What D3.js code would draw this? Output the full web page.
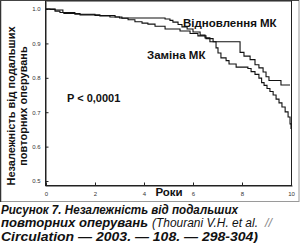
<!DOCTYPE html>
<html><head><meta charset="utf-8">
<script src="https://cdn.jsdelivr.net/npm/d3@7"></script>
<style>
html,body{margin:0;padding:0;background:#fff;}
svg{display:block;}
text{font-family:"Liberation Sans",Arial,sans-serif;}
</style></head>
<body>
<svg id="c" width="300" height="243"></svg>
<script>
// Data (years, freedom from reoperation)
const repairT = [0, 0.37, 0.69, 1.18, 2.0, 2.82, 3.0, 4.86, 5.06, 5.18, 5.39, 5.55, 5.76, 6.0, 6.29, 6.49, 6.69, 7.92, 8.08, 8.33, 8.53, 8.69, 8.86, 8.98, 9.10, 9.59, 9.96];
const repairV = [1.0, 0.997, 0.990, 0.985, 0.981, 0.977, 0.974, 0.971, 0.967, 0.962, 0.955, 0.948, 0.942, 0.933, 0.924, 0.916, 0.905, 0.874, 0.863, 0.853, 0.838, 0.829, 0.817, 0.803, 0.792, 0.779, 0.779];
const replT = [0, 0.16, 0.37, 0.57, 0.73, 1.39, 2.2, 2.61, 3.1, 3.35, 3.63, 3.92, 4.16, 4.45, 4.86, 5.47, 5.88, 6.2, 6.53, 6.82, 6.94, 7.02, 7.14, 7.35, 7.47, 7.76, 8.24, 8.37, 8.53, 8.69, 8.80, 8.9, 9.02, 9.14, 9.27, 9.39, 9.51, 9.63, 9.76, 9.88, 9.96, 10.0];
const replV = [1.0, 0.999, 0.994, 0.990, 0.987, 0.983, 0.980, 0.977, 0.973, 0.969, 0.963, 0.959, 0.956, 0.950, 0.942, 0.936, 0.929, 0.922, 0.914, 0.905, 0.887, 0.872, 0.858, 0.850, 0.840, 0.831, 0.827, 0.818, 0.810, 0.799, 0.786, 0.778, 0.769, 0.760, 0.750, 0.738, 0.727, 0.715, 0.701, 0.686, 0.666, 0.651];
const xTicks = [0, 2, 4, 6, 8, 10];
const yTicks = [1.0, 0.9, 0.8, 0.7, 0.6, 0.5];
const seriesLabels = ["Відновлення МК", "Заміна МК"];
const pLabel = "P < 0,0001";
const xTitle = "Роки";
const yTitle = ["Незалежність від подальших", "повторних оперувань"];

const svg = d3.select("#c");
const x = d3.scaleLinear().domain([-0.04, 10.04]).range([45, 292]);
const y = d3.scaleLinear().domain([0.4884, 1.0233]).range([185, 1]);

// outer frame
svg.append("rect").attr("x", 0.5).attr("y", 0.5).attr("width", 298.5).attr("height", 201)
  .attr("fill", "none").attr("stroke", "#9a9a9a").attr("stroke-width", 1);
svg.append("line").attr("x1", 0.5).attr("x2", 0.5).attr("y1", 0).attr("y2", 202).attr("stroke", "#333").attr("stroke-width", 1.5);
svg.append("line").attr("x1", 0).attr("x2", 299).attr("y1", 0.5).attr("y2", 0.5).attr("stroke", "#444").attr("stroke-width", 1);

// plot box
svg.append("rect").attr("x", 45.5).attr("y", 1).attr("width", 246).attr("height", 184.5)
  .attr("fill", "none").attr("stroke", "#222").attr("stroke-width", 1);

// axes
const xAxis = d3.axisBottom(x).tickValues(xTicks).tickSizeInner(-3).tickSizeOuter(0).tickPadding(6).tickFormat(d3.format("d"));
const gx = svg.append("g").attr("transform", "translate(0,185.5)").call(xAxis);
gx.select(".domain").attr("stroke", "#222");
gx.selectAll(".tick line").attr("stroke", "#222");
gx.selectAll(".tick text").attr("font-size", 6).attr("fill", "#333").attr("font-family", "Liberation Sans, Arial");

const yAxis = d3.axisLeft(y).tickValues(yTicks).tickSizeInner(-3).tickSizeOuter(0).tickPadding(5).tickFormat(d3.format(".1f"));
const gy = svg.append("g").attr("transform", "translate(45.5,0)").call(yAxis);
gy.select(".domain").attr("stroke", "#222");
gy.selectAll(".tick line").attr("stroke", "#222");
gy.selectAll(".tick text").attr("font-size", 6).attr("fill", "#333").attr("font-family", "Liberation Sans, Arial");

// curves
const line = d3.line().x(d => x(d[0])).y(d => y(d[1])).curve(d3.curveStepAfter);
const repair = repairT.map((t, i) => [t, repairV[i]]);
const repl = replT.map((t, i) => [t, replV[i]]);
[repair, repl].forEach(s => {
  svg.append("path").datum(s).attr("d", line).attr("fill", "none").attr("stroke", "#111").attr("stroke-width", 1.1);
});

// labels
svg.append("text").attr("x", 183).attr("y", 27).attr("font-size", 11.5).attr("font-weight", "bold").attr("fill", "#111").text(seriesLabels[0]);
svg.append("text").attr("x", 147).attr("y", 59).attr("font-size", 11.5).attr("font-weight", "bold").attr("fill", "#111").text(seriesLabels[1]);
svg.append("text").attr("x", 67).attr("y", 102).attr("font-size", 11).attr("font-weight", "bold").attr("fill", "#111").text(pLabel);
svg.append("text").attr("x", 169).attr("y", 196).attr("text-anchor", "middle").attr("font-size", 11.5).attr("font-weight", "bold").attr("fill", "#111").text(xTitle);

const yt = svg.append("text").attr("transform", "translate(15,106) rotate(-90)").attr("text-anchor", "middle")
  .attr("font-size", 11).attr("font-weight", "bold").attr("fill", "#111");
yt.append("tspan").attr("x", 0).attr("y", 0).text(yTitle[0]);
yt.append("tspan").attr("x", 0).attr("y", 12).text(yTitle[1]);

// caption
const cap = svg.append("g").attr("font-style", "italic").attr("font-size", 12.5).attr("fill", "#111");
cap.append("text").attr("x", 1).attr("y", 213.5).attr("font-weight", "bold")
  .attr("textLength", 237).attr("lengthAdjust", "spacingAndGlyphs").text("Рисунок 7. Незалежність від подальших");
cap.append("text").attr("x", 1).attr("y", 227).attr("font-weight", "bold")
  .attr("textLength", 147).attr("lengthAdjust", "spacingAndGlyphs").text("повторних оперувань");
cap.append("text").attr("x", 152).attr("y", 227).attr("font-weight", "normal")
  .attr("textLength", 106).attr("lengthAdjust", "spacingAndGlyphs").text("(Thourani V.H. et al.");
cap.append("text").attr("x", 265).attr("y", 227).attr("font-weight", "normal").attr("fill", "#888").text("//");
cap.append("text").attr("x", 1).attr("y", 240.5).attr("font-weight", "bold")
  .attr("textLength", 257).attr("lengthAdjust", "spacingAndGlyphs").text("Circulation — 2003. — 108. — 298-304)");
</script>
</body></html>
